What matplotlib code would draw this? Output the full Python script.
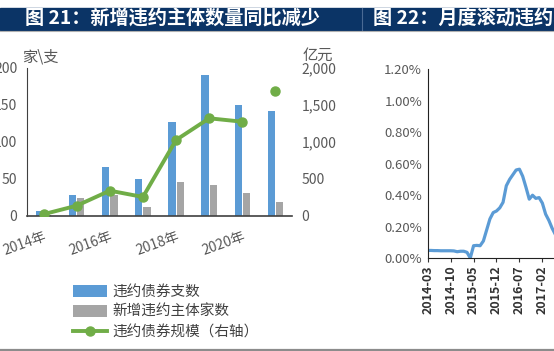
import numpy as np
import matplotlib.pyplot as plt
import matplotlib.ticker as ticker
from matplotlib.patches import Rectangle
from matplotlib.lines import Line2D

plt.rcParams['font.family'] = ['Noto Sans CJK SC', 'DejaVu Sans']
plt.rcParams['axes.unicode_minus'] = False

# left chart: defaults per year
years = ['2014', '2015', '2016', '2017', '2018', '2019', '2020', '2021']
bond_count = [7, 28, 66, 49, 127, 190, 150, 142]      # 违约债券支数
issuer_count = [1, 24, 28, 12, 45, 41, 31, 19]        # 新增违约主体家数
default_scale = [20, 135, 338, 253, 1023, 1316, 1270, 1690]  # 亿元, right axis
year_ticks = ['2014年', '2016年', '2018年', '2020年']

# right chart: monthly rolling default rate (%), from 2014-03
month_ticks = ['2014-03', '2014-10', '2015-05', '2015-12', '2016-07', '2017-02']
default_rate = [0.050, 0.050, 0.049, 0.049, 0.048, 0.048, 0.048, 0.048,
                0.047, 0.042, 0.045, 0.045, 0.038, 0.002, 0.080, 0.082,
                0.080, 0.110, 0.180, 0.250, 0.290, 0.300, 0.320, 0.355,
                0.460, 0.500, 0.530, 0.560, 0.565, 0.520, 0.450, 0.375,
                0.400, 0.380, 0.385, 0.350, 0.280, 0.240, 0.190, 0.150,
                0.120]

BLUE = '#5B9BD5'
GRAY = '#A5A5A5'
GREEN = '#70AD47'
NAVY = '#0B3466'
TXT = '#595959'

fig = plt.figure(figsize=(5.54, 3.51), dpi=100)

# title band
fig.patches.append(Rectangle((0, 0.9145), 1, 0.0627, transform=fig.transFigure,
                             color=NAVY, zorder=0))
fig.add_artist(Line2D([362/554, 362/554], [0.9145, 0.977], transform=fig.transFigure,
                      color='#4a6a94', lw=0.8))
fig.add_artist(Line2D([0, 1], [0.912, 0.912], transform=fig.transFigure,
                      color='#b0b0b0', lw=0.8))
fig.add_artist(Line2D([0, 1], [0.004, 0.004], transform=fig.transFigure,
                      color='#8c8c8c', lw=1.6))
fig.text(25/554, 0.946, '图 21：新增违约主体数量同比减少', color='white',
         fontsize=13.8, fontweight='bold', va='center', ha='left')
fig.text(373/554, 0.946, '图 22：月度滚动违约率', color='white',
         fontsize=13.8, fontweight='bold', va='center', ha='left')

# ---- left chart ----
ax = fig.add_axes([27/554, 0.3855, 265/554, 0.4217])
x = np.arange(len(years))
w = 0.22
b1 = ax.bar(x - 0.125, bond_count, width=w, color=BLUE, label='违约债券支数')
b2 = ax.bar(x + 0.125, issuer_count, width=w, color=GRAY, label='新增违约主体家数')
ax.set_xlim(-0.5, len(years) - 0.5)
ax.set_ylim(0, 200)
ax.yaxis.set_major_locator(ticker.MultipleLocator(50))
ax.set_xticks([0, 2, 4, 6])
ax.set_xticklabels(year_ticks, rotation=20, ha='right', rotation_mode='anchor')
ax.tick_params(axis='both', length=0, labelsize=10, colors=TXT)
ax.tick_params(axis='y', pad=7)
ax.tick_params(axis='x', pad=10)
for s in ['top', 'right']:
    ax.spines[s].set_visible(False)
ax.spines['left'].set_color('#404040')
ax.spines['bottom'].set_color('#404040')
ax.spines['bottom'].set_linewidth(1.2)

ax2 = ax.twinx()
ln, = ax2.plot(x[:7], default_scale[:7], color=GREEN, lw=2.8, marker='o',
               markersize=6.5, label='违约债券规模（右轴）')
ax2.plot(x[7:], default_scale[7:], color=GREEN, lw=0, marker='o', markersize=6.5)
ax2.set_ylim(0, 2000)
ax2.yaxis.set_major_locator(ticker.MultipleLocator(500))
ax2.yaxis.set_major_formatter(ticker.FuncFormatter(lambda v, p: f'{v:,.0f}'))
ax2.tick_params(axis='y', length=0, labelsize=10, colors=TXT, pad=7)
for s in ['top', 'right', 'left', 'bottom']:
    ax2.spines[s].set_visible(False)

fig.text(40/554, 1 - 57/351, '家\\支', fontsize=11, color=TXT, ha='center', va='center')
fig.text(318/554, 1 - 55/351, '亿元', fontsize=11, color=TXT, ha='center', va='center')

fig.legend(handles=[b1, b2, ln], loc='upper left', bbox_to_anchor=(73/554, 1 - 285/351),
           bbox_transform=fig.transFigure,
           frameon=False, fontsize=10.5, handlelength=2.3, handleheight=0.8,
           handletextpad=0.4, labelspacing=0.42, borderpad=0, borderaxespad=0,
           labelcolor='#404040')

# ---- right chart ----
ax3 = fig.add_axes([427.7/554, 0.264, 285/554, 0.5394])
m = np.arange(len(default_rate))
ax3.plot(m, default_rate, color=BLUE, lw=2.3, solid_joinstyle='round')
ax3.set_xlim(0, 87)
ax3.set_ylim(0, 1.2)
ax3.yaxis.set_major_locator(ticker.MultipleLocator(0.2))
ax3.yaxis.set_major_formatter(ticker.FuncFormatter(lambda v, p: f'{v:.2f}%'))
ax3.set_xticks(np.arange(len(month_ticks)) * 7)
ax3.set_xticklabels(month_ticks, rotation=90, fontweight='bold')
ax3.tick_params(axis='y', length=0, labelsize=9.5, colors=TXT, pad=4)
ax3.tick_params(axis='x', length=3, labelsize=9, colors='#333333', labelcolor='#333333', pad=2)
for s in ['top', 'right']:
    ax3.spines[s].set_visible(False)
ax3.spines['left'].set_color('#222222')
ax3.spines['bottom'].set_color('#222222')

fig.savefig('out.png', dpi=100)
